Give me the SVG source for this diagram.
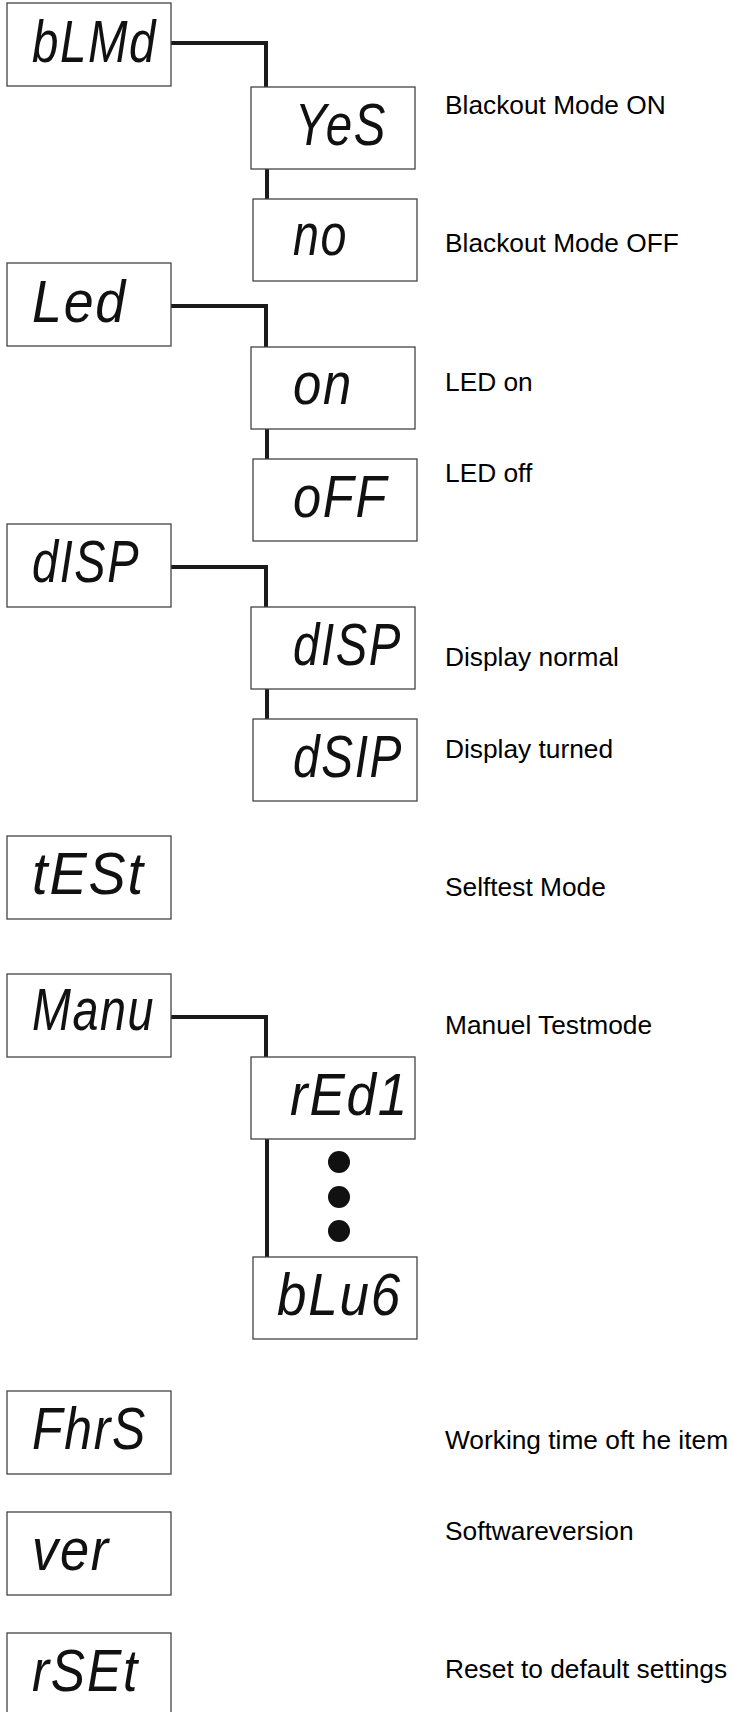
<svg xmlns="http://www.w3.org/2000/svg" width="733" height="1712" viewBox="0 0 733 1712">
<style>
.box{fill:#fff;stroke:#444;stroke-width:1.3}
.seg{font-family:"Liberation Sans","DejaVu Sans",sans-serif;font-style:italic;font-size:60px;fill:#111;letter-spacing:2px}
.lbl{font-family:"Liberation Sans",Arial,sans-serif;font-size:26.3px;fill:#000}
.con{fill:none;stroke:#1a1a1a;stroke-width:4;stroke-linejoin:miter}
</style>
<rect width="733" height="1712" fill="#fff"/>
<g id="connectors">
<path class="con" d="M171,43 H266 V87"/>
<path class="con" d="M267,169 V199"/>
<path class="con" d="M171,306 H266 V347"/>
<path class="con" d="M267,429 V459"/>
<path class="con" d="M171,567 H266 V607"/>
<path class="con" d="M267,689 V719"/>
<path class="con" d="M171,1017 H266 V1057"/>
<path class="con" d="M267,1139 V1257"/>
</g>
<g id="bLMd"><rect class="box" x="7" y="3" width="164" height="83"/><text class="seg" x="32" y="62" textLength="125" lengthAdjust="spacingAndGlyphs">bLMd</text></g>
<g id="YeS"><rect class="box" x="251" y="87" width="164" height="82"/><text class="seg" x="295" y="145" textLength="92" lengthAdjust="spacingAndGlyphs">YeS</text></g>
<g id="no"><rect class="box" x="253" y="199" width="164" height="82"/><text class="seg" x="293" y="255" textLength="55" lengthAdjust="spacingAndGlyphs">no</text></g>
<g id="Led"><rect class="box" x="7" y="263" width="164" height="83"/><text class="seg" x="32" y="322" textLength="95" lengthAdjust="spacingAndGlyphs">Led</text></g>
<g id="on"><rect class="box" x="251" y="347" width="164" height="82"/><text class="seg" x="293" y="404" textLength="60" lengthAdjust="spacingAndGlyphs">on</text></g>
<g id="oFF"><rect class="box" x="253" y="459" width="164" height="82"/><text class="seg" x="293" y="517" textLength="95" lengthAdjust="spacingAndGlyphs">oFF</text></g>
<g id="dISP-main"><rect class="box" x="7" y="524" width="164" height="83"/><text class="seg" x="32" y="582" textLength="108" lengthAdjust="spacingAndGlyphs">dISP</text></g>
<g id="dISP"><rect class="box" x="251" y="607" width="164" height="82"/><text class="seg" x="293" y="665" textLength="109" lengthAdjust="spacingAndGlyphs">dISP</text></g>
<g id="dSIP"><rect class="box" x="253" y="719" width="164" height="82"/><text class="seg" x="293" y="777" textLength="110" lengthAdjust="spacingAndGlyphs">dSIP</text></g>
<g id="tESt"><rect class="box" x="7" y="836" width="164" height="83"/><text class="seg" x="32" y="894" textLength="113" lengthAdjust="spacingAndGlyphs">tESt</text></g>
<g id="Manu"><rect class="box" x="7" y="974" width="164" height="83"/><text class="seg" x="32" y="1030" textLength="123" lengthAdjust="spacingAndGlyphs">Manu</text></g>
<g id="rEd1"><rect class="box" x="251" y="1057" width="164" height="82"/><text class="seg" x="290" y="1115" textLength="119" lengthAdjust="spacingAndGlyphs">rEd1</text></g>
<g id="dots"><circle cx="339" cy="1162" r="11" fill="#111"/><circle cx="339" cy="1197" r="11" fill="#111"/><circle cx="339" cy="1231" r="11" fill="#111"/></g>
<g id="bLu6"><rect class="box" x="253" y="1257" width="164" height="82"/><text class="seg" x="277" y="1315" textLength="125" lengthAdjust="spacingAndGlyphs">bLu6</text></g>
<g id="FhrS"><rect class="box" x="7" y="1391" width="164" height="83"/><text class="seg" x="32" y="1449" textLength="115" lengthAdjust="spacingAndGlyphs">FhrS</text></g>
<g id="ver"><rect class="box" x="7" y="1512" width="164" height="83"/><text class="seg" x="32" y="1570" textLength="78" lengthAdjust="spacingAndGlyphs">ver</text></g>
<g id="rSEt"><rect class="box" x="7" y="1633" width="164" height="83"/><text class="seg" x="32" y="1691" textLength="107" lengthAdjust="spacingAndGlyphs">rSEt</text></g>
<g id="labels">
<text class="lbl" x="445" y="114">Blackout Mode ON</text>
<text class="lbl" x="445" y="252">Blackout Mode OFF</text>
<text class="lbl" x="445" y="391">LED on</text>
<text class="lbl" x="445" y="482">LED off</text>
<text class="lbl" x="445" y="666">Display normal</text>
<text class="lbl" x="445" y="758">Display turned</text>
<text class="lbl" x="445" y="896">Selftest Mode</text>
<text class="lbl" x="445" y="1034">Manuel Testmode</text>
<text class="lbl" x="445" y="1449">Working time oft he item</text>
<text class="lbl" x="445" y="1540">Softwareversion</text>
<text class="lbl" x="445" y="1678">Reset to default settings</text>
</g>
</svg>
